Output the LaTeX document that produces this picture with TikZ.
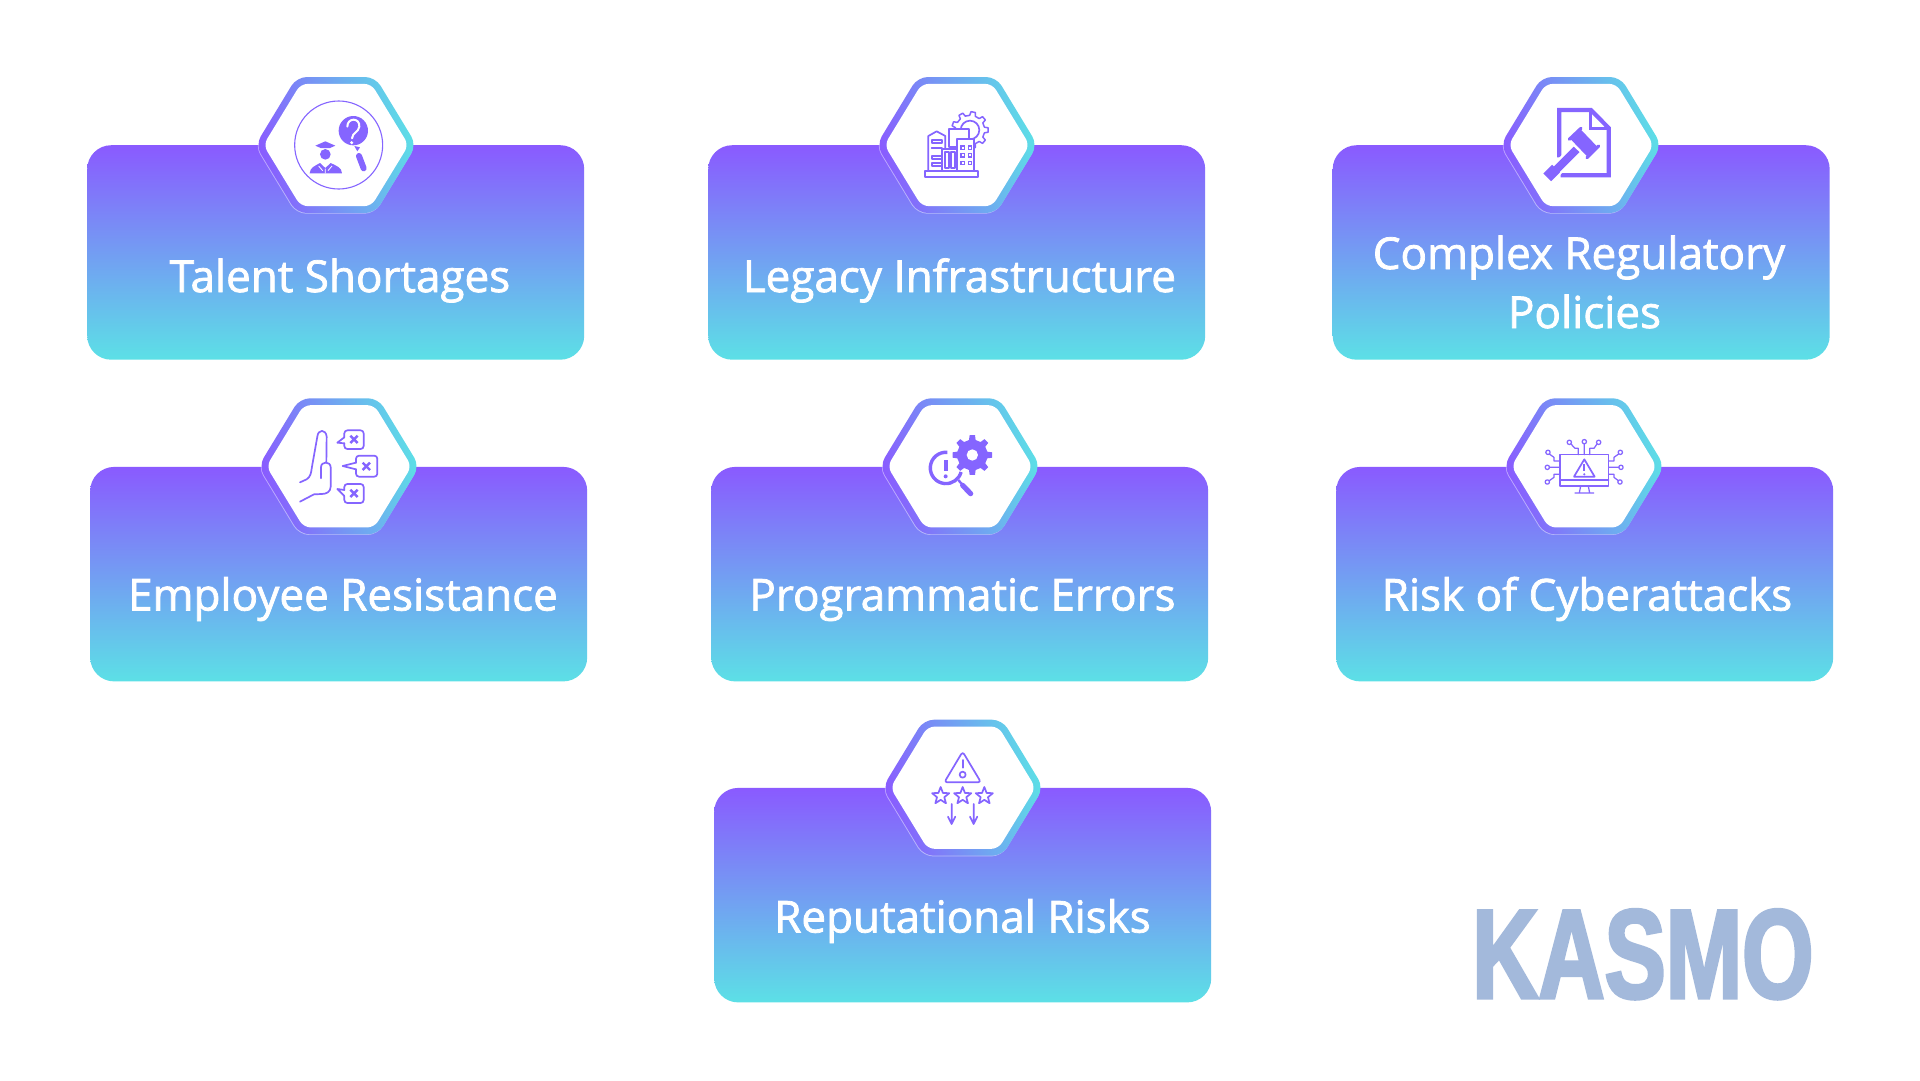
\documentclass[tikz,border=0pt]{standalone}
\usepackage{fontspec}
\setmainfont{Open Sans}[FakeBold=1.7]
\newfontfamily\kasmofont{Liberation Sans Bold}[FakeBold=2.4,FakeStretch=0.722]
\usetikzlibrary{calc}
\definecolor{cardtop}{HTML}{8A5AFF}
\definecolor{cardbot}{HTML}{5CE0E6}
\definecolor{icon}{HTML}{8565FF}
\definecolor{logo}{HTML}{A3B9DB}
\tikzset{
  card/.style={minimum width=497pt,minimum height=214.5pt,inner sep=0pt,anchor=north west,rounded corners=24pt,top color=cardtop,bottom color=cardbot},
  label/.style={text=white,font=\fontsize{44}{59}\selectfont,align=center,inner sep=0pt},
  zoomframe/.style={x=0.33333pt,y=-0.33333pt},
  iconline/.style={draw=icon,line width=1.7pt,line join=round,line cap=round},
  thinline/.style={draw=icon,line width=1.25pt,line join=round,line cap=round},
  iconfill/.style={fill=icon,draw=none},
}
\newcommand\hexbadge[2]{%
  \begin{scope}[shift={(#1,#2)}]
    \fill[white,opacity=.45,rounded corners=10pt,shift={(-.6,.6)}] (180:80.6)--(120:78.6)--(60:78.6)--(0:80.6)--(-60:78.6)--(-120:78.6)--cycle;
    \shade[top color=cardtop,bottom color=cardbot,shading angle=102,rounded corners=10pt] (180:80.5)--(120:78.5)--(60:78.5)--(0:80.5)--(-60:78.5)--(-120:78.5)--cycle;
    \fill[white,rounded corners=7pt] (180:72.6)--(120:70.6)--(60:70.6)--(0:72.6)--(-60:70.6)--(-120:70.6)--cycle;
  \end{scope}}
\newcommand\gearat[6]{%
  \path[#1,shift={(#2,#3)}] ({-360/#4*.28}:#6) \foreach \k in {1,...,#4} { -- ({(\k-1)*360/#4-360/#4*.17}:#5) -- ({(\k-1)*360/#4+360/#4*.17}:#5) -- ({(\k-1)*360/#4+360/#4*.28}:#6) -- ({\k*360/#4-360/#4*.28}:#6) } -- cycle;}
\newcommand\starat[2]{%
  \draw[iconline,shift={(#1,#2)}] (-90:27) \foreach \k in {0,...,4} { -- ({-54+\k*72}:11.5) -- ({-18+\k*72}:27) } -- cycle;}
\newcommand\xmark[2]{%
  \draw[icon,line width=2.4pt,shift={(#1,#2)}] (-11,-11)--(11,11) (-11,11)--(11,-11);}
\begin{document}
\begin{tikzpicture}[x=1pt,y=-1pt]
\useasboundingbox (0,0) rectangle (1920,1080);
\fill[white] (0,0) rectangle (1920,1080);
% cards
\node[card] (c1) at (87,145) {};
\node[card] (c2) at (708,145) {};
\node[card] (c3) at (1332.5,145) {};
\node[card] (c4) at (90,466.7) {};
\node[card] (c5) at (711,466.7) {};
\node[card] (c6) at (1336,466.7) {};
\node[card] (c7) at (714,787.7) {};
% hexagons
\hexbadge{336}{145}
\hexbadge{957}{145}
\hexbadge{1581}{145}
\hexbadge{339}{466.3}
\hexbadge{960}{466.3}
\hexbadge{1584}{466.3}
\hexbadge{963}{787.7}
% labels
\node[label,anchor=base] (t1) at (340,292) {Talent Shortages};
\node[label,anchor=base] (t2) at (959.4,292) {Legacy Infrastructure};
\node[label] (t3) at (1584.5,282) {Complex Regulatory\hspace*{11pt}\\Policies};
\node[label,anchor=base] (t4) at (343,610.5) {Employee Resistance};
\node[label,anchor=base] (t5) at (962.5,610.5) {Programmatic Errors};
\node[label,anchor=base] (t6) at (1587,610.5) {Risk of Cyberattacks};
\node[label,anchor=base] (t7) at (962.5,932.5) {Reputational Risks};
\node[text=logo,inner sep=0pt,anchor=base west,font=\kasmofont\fontsize{127}{127}\selectfont] (logo) at (1472,998) {KASMO};
% icon 1
\begin{scope}[zoomframe,shift={(720,180)}]
  \draw[icon,line width=1.1pt] (296,255) circle[radius=132];
  \fill[icon] (340,212) circle[radius=44];
  \draw[white,line width=2pt,line cap=round] (322,200) .. controls (322,172) and (360,172) .. (358,200) .. controls (355,218) and (338,216) .. (336,235);
  \fill[white] (335,248) circle[radius=5];
  \fill[icon] (343,258)--(360,262)--(352,274)--cycle;
  \draw[icon,line width=6pt,line cap=round] (357,288)--(371,325);
  \fill[icon] (256,283) ellipse[x radius=16,y radius=16];
  \fill[icon] (226,257)--(256,244)--(286,257)--(270,264)--(242,264)--cycle;
  \fill[icon] (209,340) .. controls (210,322) and (225,318) .. (240,309) -- (256,324) -- (272,309) .. controls (290,318) and (305,322) .. (306,340) -- cycle;
  \draw[white,line width=.8pt] (236,318)--(248,332) (276,318)--(264,332) (256,326)--(256,340);
\end{scope}
% icon 2
\begin{scope}[zoomframe,shift={(2580,180)}]
  \gearat{draw=icon,line width=1.5pt,line join=round,fill=white}{330}{210}{9}{55}{44}
  \draw[iconline] (330,210) circle[radius=28];
  \draw[iconline,fill=white] (266,207) rectangle (328,262);
  \draw[iconline,fill=white] (205,333)--(205,228)--(230,214)--(256,228)--(256,333)--cycle;
  \draw[iconline,fill=white] (292,238) rectangle (343,333);
  \draw[iconline,fill=white] (246,267) rectangle (292,333);
  \draw[iconline] (215,241) rectangle (247,250) (215,265) -- (246,265) (215,288) rectangle (246,297) (215,310) rectangle (246,319);
  \draw[iconline] (256,277) rectangle (266,323) (274,277) rectangle (284,323);
  \foreach \wx in {303,325} \foreach \wy in {258,281,304} \draw[icon,line width=1.2pt] (\wx,\wy) rectangle ++(10,10);
  \draw[iconline,fill=white] (195,333) rectangle (355,350);
\end{scope}
% icon 3
\begin{scope}[zoomframe,shift={(4470,180)}]
  \draw[icon,line width=4.2pt,line join=miter] (208,292)--(208,150)--(303,150)--(356,204)--(356,346)--(212,346);
  \draw[icon,line width=3pt,line join=miter] (303,150)--(303,204)--(356,204);
  \draw[white,line width=13pt] (176,352)--(262,266);
  \draw[icon,line width=8pt] (184,344)--(262,266);
  \draw[icon,line width=11pt] (172,352)--(198,326) ;
  \fill[white] (247,206) -- (330,285) -- (300,305) -- (225,235) -- cycle;
  \draw[icon,line width=14pt] (258,224)--(306,274);
  \draw[icon,line width=3.2pt,line cap=round] (238,238)--(273,205) (291,293)--(326,258);
\end{scope}
% icon 4
\begin{scope}[zoomframe,shift={(720,1140)}]
  \draw[iconline] (180,307) -- (200,298) .. controls (212,290) and (213,280) .. (216,260) -- (232,170) .. controls (234,147) and (258,147) .. (260,170) -- (259,248);
  \draw[iconline] (243,295) -- (243,262) .. controls (243,243) and (272,243) .. (272,262) -- (272,320) .. controls (272,335) and (260,342) .. (245,342) -- (222,343) -- (180,365);
  \draw[iconline,rounded corners=3pt] (313,172)--(313,151)--(371,151)--(371,207)--(313,207)--(313,190);
  \draw[iconline] (313,172)--(292,188)--(313,190);
  \xmark{342}{178}
  \draw[iconline,rounded corners=3pt] (348,248)--(348,227)--(412,227)--(412,290)--(348,290)--(348,268);
  \draw[iconline] (348,248)--(308,258)--(348,268);
  \xmark{379}{259}
  \draw[iconline,rounded corners=3pt] (313,330)--(313,312)--(371,312)--(371,369)--(313,369)--(313,348);
  \draw[iconline] (313,330)--(292,327)--(313,348);
  \xmark{342}{340}
\end{scope}
% icon 5
\begin{scope}[zoomframe,shift={(2580,1140)}]
  \gearat{fill=icon}{337}{225}{8}{60}{46}
  \fill[white] (337,225) circle[radius=17];
  \draw[icon,line width=3.4pt,line cap=butt] (262,217) arc[start angle=-85,end angle=-345,radius=47];
  \draw[icon,line width=3.6pt] (258,240)--(258,272);
  \fill[icon] (257,289) circle[radius=6];
  \draw[icon,line width=2.4pt] (295,300)--(308,315);
  \draw[icon,line width=5.2pt,line cap=round] (308,316)--(332,341);
\end{scope}
% icon 6
\begin{scope}[zoomframe,shift={(4470,1140)}]
  \draw[thinline] (210,224) rectangle (356,318);
  \draw[thinline] (210,300)--(356,300);
  \draw[thinline] (272,318)--(268,339) (295,318)--(299,339) (255,339)--(311,339);
  \draw[iconline] (252,290)--(283,238)--(314,290)--cycle;
  \draw[icon,line width=1.8pt] (283,253)--(283,273);
  \fill[icon] (283,283) circle[radius=3.5];
  \foreach \cx/\cy in {238/187,283/185,326/187,174/217,172/262,172/306,391/217,393/262,390/306}
    \draw[thinline] (\cx,\cy) circle[radius=6.5];
  \draw[thinline] (283,191)--(283,224)
    (243,192)--(255,205)--(265,205)--(265,224)
    (321,192)--(312,205)--(299,205)--(299,224)
    (178,222)--(192,232)--(192,243)--(210,243)
    (178,262)--(210,262)
    (178,302)--(192,292)--(192,283)--(210,283)
    (386,222)--(372,232)--(372,243)--(356,243)
    (387,262)--(356,262)
    (385,302)--(372,292)--(372,283)--(356,283);
\end{scope}
% icon 7
\begin{scope}[zoomframe,shift={(2580,2100)}]
  \draw[iconline,rounded corners=3pt] (308,155)--(253,247)--(363,247)--cycle;
  \draw[iconline] (308,180)--(308,203);
  \draw[iconline] (308,224) circle[radius=9];
  \starat{242}{288}
  \starat{308}{288}
  \starat{373}{288}
  \draw[iconline] (275,312)--(275,372) (264,350)--(275,372)--(286,350);
  \draw[iconline] (341,312)--(341,372) (330,350)--(341,372)--(352,350);
\end{scope}
\end{tikzpicture}
\end{document}
